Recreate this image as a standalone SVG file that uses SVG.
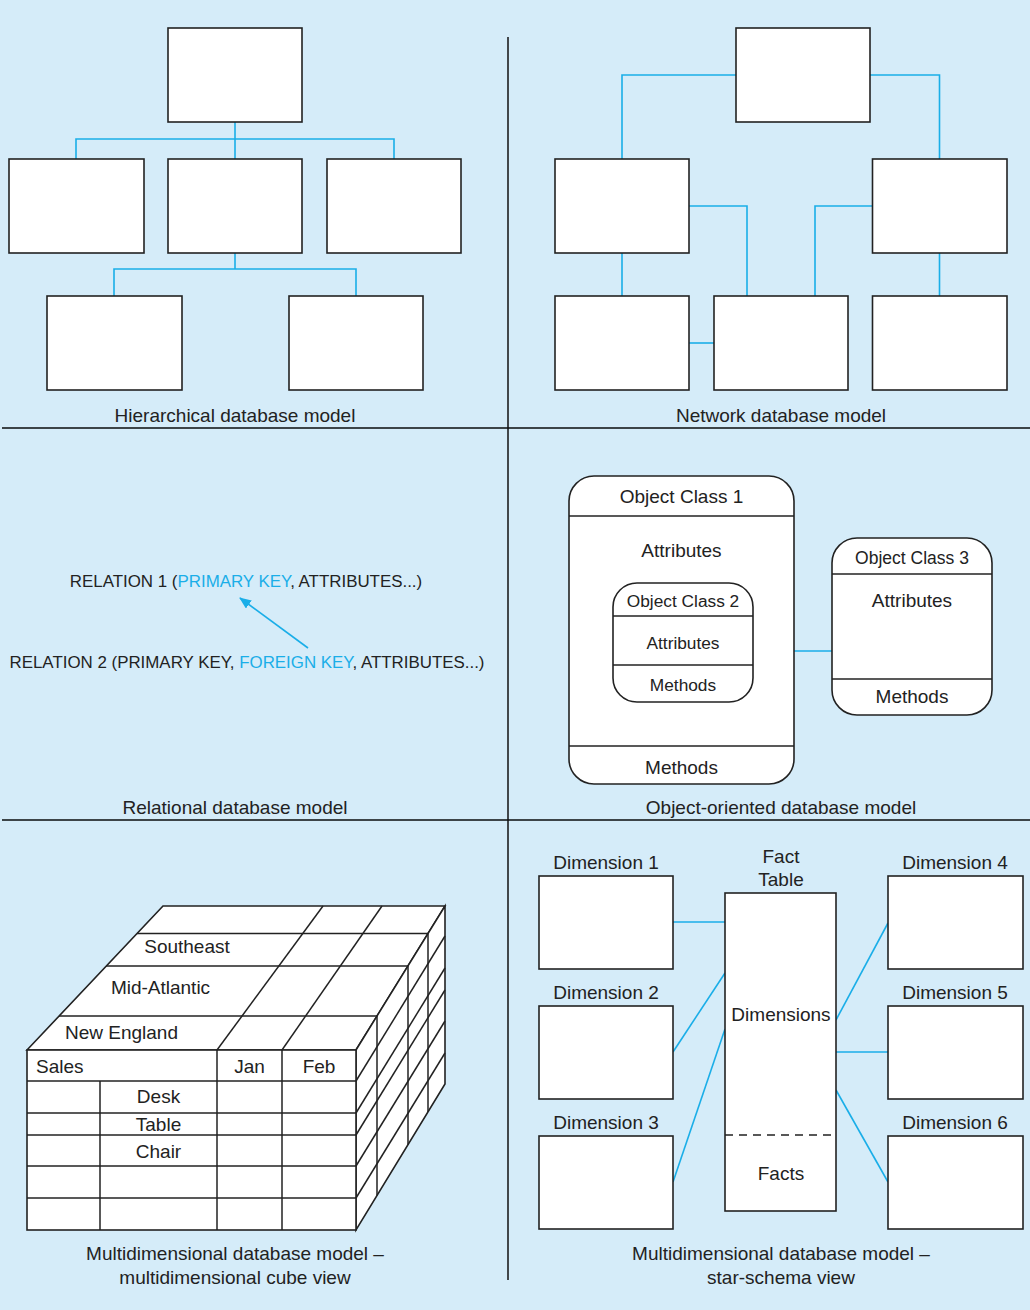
<svg xmlns="http://www.w3.org/2000/svg" width="1030" height="1310" viewBox="0 0 1030 1310">
<defs>
<style>
.box{fill:#fff;stroke:#222;stroke-width:1.6}
.ln{fill:none;stroke:#222;stroke-width:1.5}
.con{fill:none;stroke:#1aaee8;stroke-width:1.6}
.div{fill:none;stroke:#3c4448;stroke-width:2}
.t{font-family:"Liberation Sans",Arial,Helvetica,sans-serif;font-size:19px;fill:#222;text-anchor:middle}
.s{font-size:17.3px}
.r{font-size:16.9px}
.blue{fill:#1aaee8}
</style>
<marker id="ah" viewBox="0 0 12 10" refX="11" refY="5" markerWidth="12" markerHeight="10" markerUnits="userSpaceOnUse" orient="auto">
<path d="M0,0 L12,5 L0,10 z" fill="#1aaee8"/>
</marker>
</defs>
<rect x="0" y="0" width="1030" height="1310" fill="#d5ecf9"/>

<g id="dividers">
<line class="div" x1="2" y1="428" x2="1030" y2="428"/>
<line class="div" x1="2" y1="820" x2="1030" y2="820"/>
<line x1="508" y1="37" x2="508" y2="1280" stroke="#111" stroke-width="1.5"/>
</g>

<g id="connectors">
<!-- hierarchical -->
<path class="con" d="M235,122 V159 M76,159 V139 H394 V159 M235,253 V269 M114,296 V269 H356 V296"/>
<!-- network -->
<path class="con" d="M736,75 H622 V159 M870,75 H939.5 V159 M689,206 H747 V296 M872,206 H815 V296 M622,253 V296 M939.5,253 V296"/>
<line class="con" x1="689" y1="343" x2="714" y2="343" stroke-width="2.2"/>
<!-- relational -->
<line class="con" x1="308" y1="648" x2="240" y2="598" marker-end="url(#ah)"/>
<!-- object oriented -->
<line class="con" x1="753" y1="651" x2="832" y2="651"/>
<!-- star schema -->
<line class="con" x1="673" y1="922" x2="725" y2="922"/>
<line class="con" x1="673" y1="1052" x2="725" y2="973"/>
<line class="con" x1="673" y1="1182" x2="725" y2="1029"/>
<line class="con" x1="836" y1="1020" x2="888" y2="923"/>
<line class="con" x1="836" y1="1052" x2="888" y2="1052"/>
<line class="con" x1="836" y1="1090" x2="888" y2="1182"/>
</g>

<g id="hierarchical">
<rect id="h-root" class="box" x="168" y="28" width="134" height="94"/>
<rect id="h-c1" class="box" x="9" y="159" width="135" height="94"/>
<rect id="h-c2" class="box" x="168" y="159" width="134" height="94"/>
<rect id="h-c3" class="box" x="327" y="159" width="134" height="94"/>
<rect id="h-g1" class="box" x="47" y="296" width="135" height="94"/>
<rect id="h-g2" class="box" x="289" y="296" width="134" height="94"/>
<text class="t" x="235" y="422">Hierarchical database model</text>
</g>

<g id="network">
<rect id="n-root" class="box" x="736" y="28" width="134" height="94"/>
<rect id="n-m1" class="box" x="555" y="159" width="134" height="94"/>
<rect id="n-m2" class="box" x="872.5" y="159" width="134.5" height="94"/>
<rect id="n-b1" class="box" x="555" y="296" width="134" height="94"/>
<rect id="n-b2" class="box" x="714" y="296" width="134" height="94"/>
<rect id="n-b3" class="box" x="872.5" y="296" width="134.5" height="94"/>
<text class="t" x="781" y="422">Network database model</text>
</g>

<g id="relational">
<text class="t r" x="246" y="587">RELATION 1 (<tspan class="blue">PRIMARY KEY</tspan>, ATTRIBUTES...)</text>
<text class="t r" x="247" y="668">RELATION 2 (PRIMARY KEY, <tspan class="blue">FOREIGN KEY</tspan>, ATTRIBUTES...)</text>
<text class="t" x="235" y="814">Relational database model</text>
</g>

<g id="object-oriented">
<g id="oc1">
<rect class="box" x="569" y="476" width="225" height="308" rx="25"/>
<line class="ln" x1="569" y1="516" x2="794" y2="516"/>
<line class="ln" x1="569" y1="746" x2="794" y2="746"/>
<text class="t" x="681.5" y="503">Object Class 1</text>
<text class="t" x="681.5" y="557">Attributes</text>
<text class="t" x="681.5" y="774">Methods</text>
</g>
<g id="oc2">
<rect class="box" x="613" y="583" width="140" height="119" rx="24"/>
<line class="ln" x1="613" y1="616" x2="753" y2="616"/>
<line class="ln" x1="613" y1="665" x2="753" y2="665"/>
<text class="t s" x="683" y="607">Object Class 2</text>
<text class="t s" x="683" y="649">Attributes</text>
<text class="t s" x="683" y="691">Methods</text>
</g>
<g id="oc3">
<rect class="box" x="832" y="538" width="160" height="177" rx="25"/>
<line class="ln" x1="832" y1="574" x2="992" y2="574"/>
<line class="ln" x1="832" y1="679" x2="992" y2="679"/>
<text class="t" x="912" y="564" style="font-size:17.5px">Object Class 3</text>
<text class="t" x="912" y="607">Attributes</text>
<text class="t" x="912" y="703">Methods</text>
</g>
<text class="t" x="781" y="814">Object-oriented database model</text>
</g>

<g id="cube">
<polygon class="box" points="27,1050 163,906 445,906 356,1050"/>
<polygon class="box" points="356,1050 445,906 445,1084 356,1230"/>
<rect class="box" x="27" y="1050" width="329" height="180"/>
<g class="ln">
<line x1="27" y1="1081" x2="356" y2="1081"/>
<line x1="27" y1="1113" x2="356" y2="1113"/>
<line x1="27" y1="1135" x2="356" y2="1135"/>
<line x1="27" y1="1166" x2="356" y2="1166"/>
<line x1="27" y1="1198" x2="356" y2="1198"/>
<line x1="100" y1="1081" x2="100" y2="1230"/>
<line x1="217" y1="1050" x2="217" y2="1230"/>
<line x1="282" y1="1050" x2="282" y2="1230"/>
<line x1="59" y1="1016" x2="377" y2="1016"/>
<line x1="106" y1="966" x2="408" y2="966"/>
<line x1="137" y1="933.5" x2="428" y2="933.5"/>
<line x1="217" y1="1050" x2="323" y2="906"/>
<line x1="282" y1="1050" x2="382" y2="906"/>
<line x1="356" y1="1081" x2="445" y2="936"/>
<line x1="356" y1="1113" x2="445" y2="968"/>
<line x1="356" y1="1135" x2="445" y2="990"/>
<line x1="356" y1="1166" x2="445" y2="1021"/>
<line x1="356" y1="1198" x2="445" y2="1053"/>
<line x1="377" y1="1016" x2="377" y2="1195.6"/>
<line x1="408" y1="966" x2="408" y2="1144.7"/>
<line x1="428" y1="933.5" x2="428" y2="1112"/>
</g>
<text class="t" x="187" y="953">Southeast</text>
<text class="t" x="160.5" y="994">Mid-Atlantic</text>
<text class="t" x="121.5" y="1039">New England</text>
<text class="t" x="36" y="1073" style="text-anchor:start">Sales</text>
<text class="t" x="249.5" y="1073">Jan</text>
<text class="t" x="319" y="1073">Feb</text>
<text class="t" x="158.5" y="1103">Desk</text>
<text class="t" x="158.5" y="1131">Table</text>
<text class="t" x="158.5" y="1158">Chair</text>
<text class="t" x="235" y="1260">Multidimensional database model –</text>
<text class="t" x="235" y="1284">multidimensional cube view</text>
</g>

<g id="star-schema">
<g id="fact">
<rect class="box" x="725" y="893" width="111" height="318"/>
<line class="ln" x1="725" y1="1135" x2="836" y2="1135" stroke-dasharray="8,6"/>
<text class="t" x="781" y="863">Fact</text>
<text class="t" x="781" y="886">Table</text>
<text class="t" x="781" y="1021">Dimensions</text>
<text class="t" x="781" y="1180">Facts</text>
</g>
<g id="dim1"><rect class="box" x="539" y="876" width="134" height="93"/><text class="t" x="606" y="869">Dimension 1</text></g>
<g id="dim2"><rect class="box" x="539" y="1006" width="134" height="93"/><text class="t" x="606" y="999">Dimension 2</text></g>
<g id="dim3"><rect class="box" x="539" y="1136" width="134" height="93"/><text class="t" x="606" y="1129">Dimension 3</text></g>
<g id="dim4"><rect class="box" x="888" y="876" width="135" height="93"/><text class="t" x="955" y="869">Dimension 4</text></g>
<g id="dim5"><rect class="box" x="888" y="1006" width="135" height="93"/><text class="t" x="955" y="999">Dimension 5</text></g>
<g id="dim6"><rect class="box" x="888" y="1136" width="135" height="93"/><text class="t" x="955" y="1129">Dimension 6</text></g>
<text class="t" x="781" y="1260">Multidimensional database model –</text>
<text class="t" x="781" y="1284">star-schema view</text>
</g>
</svg>
